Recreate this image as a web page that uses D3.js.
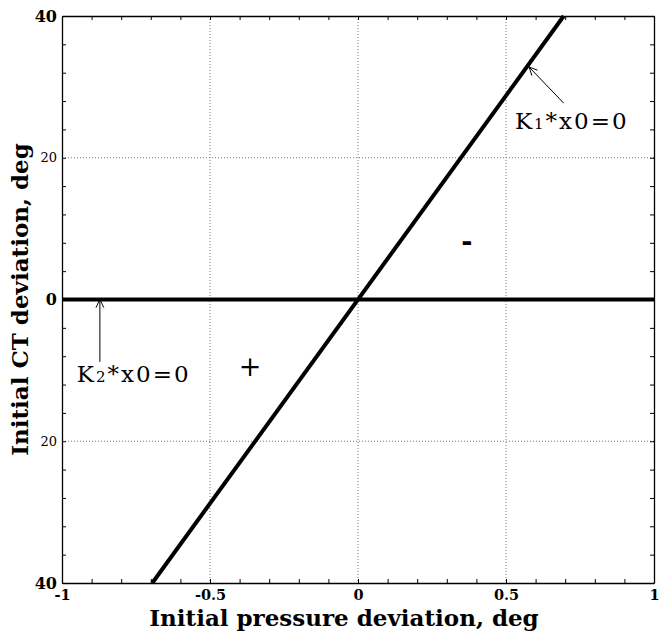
<!DOCTYPE html>
<html>
<head>
<meta charset="utf-8">
<script src="https://cdn.jsdelivr.net/npm/d3@7"></script>
<style>
  html, body { margin: 0; padding: 0; background: #fff; }
  svg { display: block; }
  svg text { font-family: "DejaVu Serif", "Liberation Serif", serif; }
</style>
</head>
<body>
<svg id="chart" width="663" height="633"></svg>
<script>
// Axis ranges and tick labels
const xDomain = [-1, 1];
const yDomain = [-40, 40];
const xTickValues = [-1, -0.5, 0, 0.5, 1];
const xTickLabels = ["-1", "-0.5", "0", "0.5", "1"];
const yTickValues = [40, 20, 0, -20, -40];
const yTickLabels = ["40", "20", "0", "20", "40"];
const xGridValues = [-0.5, 0, 0.5];
const yGridValues = [20, -20];
const xMinorStep = 0.1;
const yMinorStep = 4;

// Switching lines: K1*x0 = 0 (sloped) and K2*x0 = 0 (horizontal)
const k1Line = [[-0.695, -40], [0.695, 40]];
const k2Line = [[-1, 0], [1, 0]];

// Annotations: label text, arrow tip/tail (data units) and region signs
const k1Label = { main: "K", sub: "1", rest: "*x0=0" };
const k2Label = { main: "K", sub: "2", rest: "*x0=0" };
const k1Arrow = { tip: [0.578, 32.8], tail: [0.695, 27.7] };
const k2Arrow = { tip: [-0.872, 0], tail: [-0.872, -8.8] };
const signs = [
  { text: "+", at: [-0.365, -9.5], weight: "normal" },
  { text: "-", at: [0.368, 8.2], weight: "bold" }
];
const k1LabelAt = [0.53, 24.0];
const k2LabelAt = [-0.95, -11.7];

const xTitle = "Initial pressure deviation, deg";
const yTitle = "Initial CT deviation, deg";

const serif = "'DejaVu Serif', 'Liberation Serif', serif";

const svg = d3.select("#chart");
const plotLeft = 62, plotRight = 654, plotTop = 16, plotBottom = 583;

const x = d3.scaleLinear().domain(xDomain).range([plotLeft, plotRight]);
const y = d3.scaleLinear().domain(yDomain).range([plotBottom, plotTop]);

const xMinor = d3.range(xDomain[0], xDomain[1] + 1e-9, xMinorStep).map(v => +v.toFixed(2));
const yMinor = d3.range(yDomain[0], yDomain[1] + 1e-9, yMinorStep);

// Dotted grid
svg.append("g").selectAll("line").data(xGridValues).join("line")
  .attr("x1", d => x(d)).attr("x2", d => x(d))
  .attr("y1", plotTop).attr("y2", plotBottom)
  .attr("stroke", "#777").attr("stroke-width", 1).attr("stroke-dasharray", "1,2");
svg.append("g").selectAll("line").data(yGridValues).join("line")
  .attr("y1", d => y(d)).attr("y2", d => y(d))
  .attr("x1", plotLeft).attr("x2", plotRight)
  .attr("stroke", "#777").attr("stroke-width", 1).attr("stroke-dasharray", "1,2");

// Minor tick marks on all four sides (pointing inward)
const tickStyle = g => {
  g.select(".domain").attr("stroke", "#000").attr("stroke-width", 1.3);
  g.selectAll(".tick line").attr("stroke", "#000").attr("stroke-width", 1);
};
svg.append("g").attr("transform", `translate(0,${plotBottom})`)
  .call(d3.axisBottom(x).tickValues(xMinor).tickSize(-4).tickSizeOuter(0).tickFormat(""))
  .call(tickStyle);
svg.append("g").attr("transform", `translate(0,${plotTop})`)
  .call(d3.axisTop(x).tickValues(xMinor).tickSize(-4).tickSizeOuter(0).tickFormat(""))
  .call(tickStyle);
svg.append("g").attr("transform", `translate(${plotLeft},0)`)
  .call(d3.axisLeft(y).tickValues(yMinor).tickSize(-4).tickSizeOuter(0).tickFormat(""))
  .call(tickStyle);
svg.append("g").attr("transform", `translate(${plotRight},0)`)
  .call(d3.axisRight(y).tickValues(yMinor).tickSize(-4).tickSizeOuter(0).tickFormat(""))
  .call(tickStyle);

// Tick labels
const xAxisLabels = svg.append("g").attr("transform", `translate(0,${plotBottom})`)
  .call(d3.axisBottom(x).tickValues(xTickValues).tickSize(0).tickPadding(7)
    .tickFormat((d, i) => xTickLabels[i]));
xAxisLabels.attr("font-family", null);
xAxisLabels.select(".domain").remove();
xAxisLabels.selectAll("text")
  .style("font-family", serif)
  .attr("font-size", 14.5).attr("font-weight", "bold").attr("fill", "#000");

const yAxisLabels = svg.append("g").attr("transform", `translate(${plotLeft},0)`)
  .call(d3.axisLeft(y).tickValues(yTickValues).tickSize(0).tickPadding(5)
    .tickFormat((d, i) => yTickLabels[i]));
yAxisLabels.attr("font-family", null);
yAxisLabels.select(".domain").remove();
yAxisLabels.selectAll("text")
  .style("font-family", serif)
  .attr("fill", "#000")
  .attr("font-size", d => Math.abs(d) === 20 ? 13 : 16)
  .attr("font-weight", d => Math.abs(d) === 20 ? "normal" : "bold");

// Switching lines
const line = d3.line().x(d => x(d[0])).y(d => y(d[1]));
svg.append("path").datum(k2Line).attr("d", line)
  .attr("fill", "none").attr("stroke", "#000").attr("stroke-width", 4);
svg.append("path").datum(k1Line).attr("d", line)
  .attr("fill", "none").attr("stroke", "#000").attr("stroke-width", 4);

// Annotation arrows with open heads
function arrow(a) {
  const x1 = x(a.tail[0]), y1 = y(a.tail[1]);
  const x2 = x(a.tip[0]), y2 = y(a.tip[1]);
  svg.append("line").attr("x1", x1).attr("y1", y1).attr("x2", x2).attr("y2", y2)
    .attr("stroke", "#000").attr("stroke-width", 1);
  const ang = Math.atan2(y1 - y2, x1 - x2);
  const len = 9, spread = 0.45;
  const p = [
    [x2 + len * Math.cos(ang - spread), y2 + len * Math.sin(ang - spread)],
    [x2, y2],
    [x2 + len * Math.cos(ang + spread), y2 + len * Math.sin(ang + spread)]
  ];
  svg.append("path").attr("d", d3.line()(p))
    .attr("fill", "none").attr("stroke", "#000").attr("stroke-width", 1);
}
arrow(k1Arrow);
arrow(k2Arrow);

// Annotation labels
function label(l, at) {
  const t = svg.append("text")
    .attr("x", x(at[0])).attr("y", y(at[1]))
    .style("font-family", serif)
    .attr("letter-spacing", 2)
    .attr("font-size", 23).attr("fill", "#000");
  t.append("tspan").text(l.main);
  t.append("tspan").attr("font-size", 15).text(l.sub);
  t.append("tspan").text(l.rest);
}
label(k1Label, k1LabelAt);
label(k2Label, k2LabelAt);

// Region signs
svg.append("g").selectAll("text").data(signs).join("text")
  .attr("x", d => x(d.at[0])).attr("y", d => y(d.at[1]))
  .attr("text-anchor", "middle").attr("dominant-baseline", "central")
  .style("font-family", serif)
  .attr("font-size", 27).attr("font-weight", d => d.weight).attr("fill", "#000")
  .text(d => d.text);

// Axis titles
svg.append("text")
  .attr("x", (plotLeft + plotRight) / 2 - 14).attr("y", 626)
  .attr("text-anchor", "middle")
  .style("font-family", serif)
  .attr("font-size", 23).attr("font-weight", "bold").attr("fill", "#000")
  .text(xTitle);
svg.append("text")
  .attr("transform", `translate(28,${(plotTop + plotBottom) / 2}) rotate(-90)`)
  .attr("text-anchor", "middle")
  .style("font-family", serif)
  .attr("font-size", 23).attr("font-weight", "bold").attr("fill", "#000")
  .text(yTitle);
</script>
</body>
</html>
